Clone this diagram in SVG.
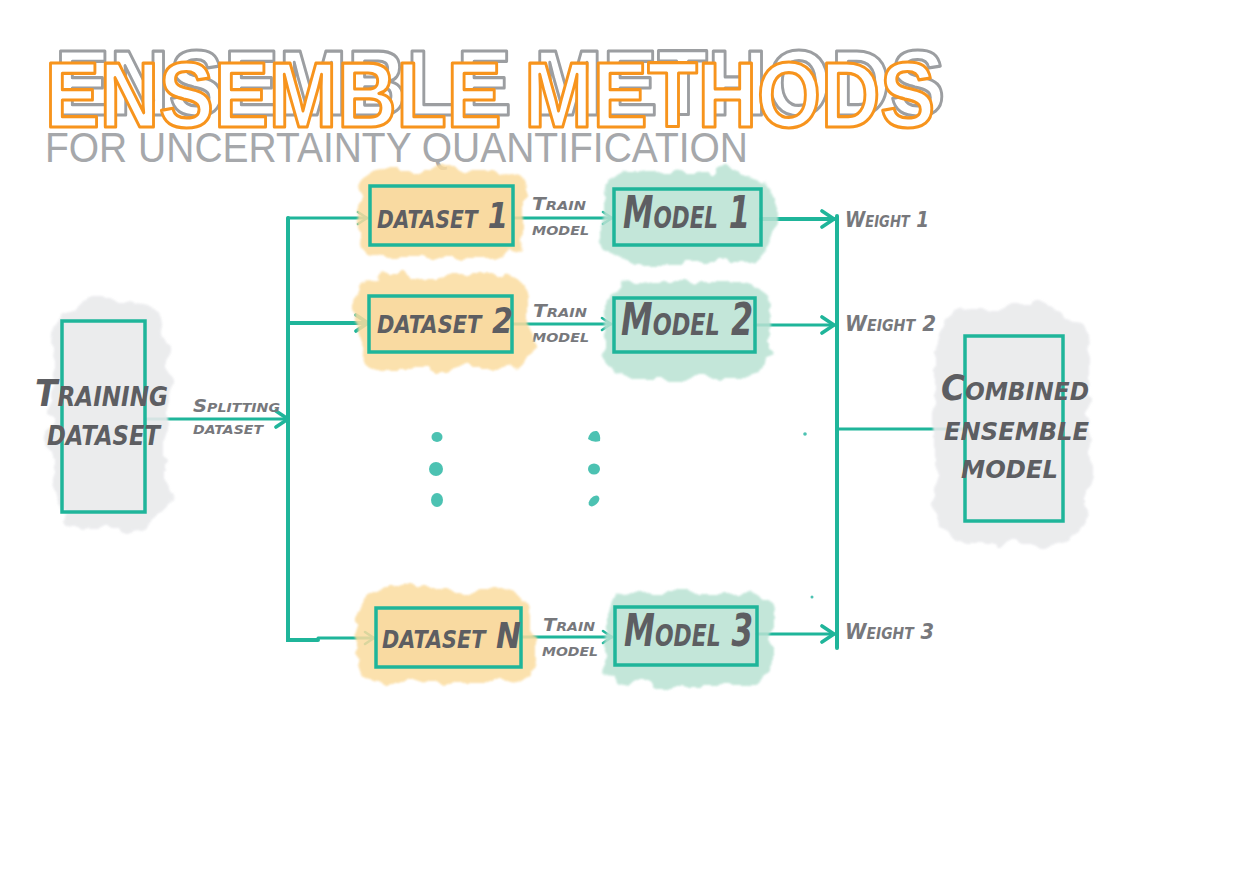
<svg xmlns="http://www.w3.org/2000/svg" width="1257" height="878" viewBox="0 0 1257 878">
<defs>
<filter id="blob" x="-20%" y="-20%" width="140%" height="140%">
<feTurbulence type="fractalNoise" baseFrequency="0.035" numOctaves="3" seed="4" result="n"/>
<feDisplacementMap in="SourceGraphic" in2="n" scale="22" xChannelSelector="R" yChannelSelector="G" result="d"/>
<feGaussianBlur in="d" stdDeviation="1.2"/>
</filter>
<filter id="shadow" x="-3%" y="-40%" width="106%" height="180%" color-interpolation-filters="sRGB">
<feColorMatrix in="SourceGraphic" type="matrix" values="0 0 0.44 0 0.56  0 0 0.44 0 0.57  0 0 0.44 0 0.58  0 0 0 1 0" result="g"/>
<feOffset in="g" dx="10" dy="-12" result="o"/>
<feMerge><feMergeNode in="o"/><feMergeNode in="SourceGraphic"/></feMerge>
</filter>
<marker id="arr" markerUnits="userSpaceOnUse" markerWidth="14" markerHeight="16" refX="11" refY="8" orient="auto">
<path d="M2,2 L11,8 L2,14" fill="none" stroke="#1fb59a" stroke-width="2.6" stroke-linecap="round" stroke-linejoin="round"/>
</marker>
<marker id="arrB" markerUnits="userSpaceOnUse" markerWidth="18" markerHeight="20" refX="14" refY="10" orient="auto">
<path d="M2,2 L14,10 L2,18" fill="none" stroke="#1fb59a" stroke-width="3.6" stroke-linecap="round" stroke-linejoin="round"/>
</marker>
</defs>
<style>
.box{fill:none;stroke:#1fb59a;stroke-width:3.5;}
.ln{fill:none;stroke:#1fb59a;stroke-width:3;stroke-linecap:round;}
.lnT{fill:none;stroke:#1fb59a;stroke-width:4;stroke-linecap:round;}
.yb{fill:#fbdc9f;opacity:0.85;}
.gb{fill:#b9e2d3;opacity:0.85;}
.wb{fill:#e9eaec;opacity:0.9;}
.hand{font-family:"DejaVu Sans",sans-serif;font-weight:bold;font-style:italic;font-variant:small-caps;fill:#5d5e62;}
.lbl{font-family:"DejaVu Sans",sans-serif;font-weight:bold;font-style:italic;font-variant:small-caps;fill:#77787c;}
.dot{fill:#4cc2b2;}
</style>
<rect width="1257" height="878" fill="#ffffff"/>

<g id="title">
<text x="45" y="127" filter="url(#shadow)" font-family="'Liberation Sans',Arial,sans-serif" font-weight="bold" font-size="92" textLength="890" lengthAdjust="spacingAndGlyphs" fill="#ffffff" stroke="#f7941d" stroke-width="3.2" stroke-linejoin="round">ENSEMBLE METHODS</text>
<text x="45" y="162" font-family="'Liberation Sans',Arial,sans-serif" font-size="42" textLength="703" lengthAdjust="spacingAndGlyphs" fill="#a6a8ab">FOR UNCERTAINTY QUANTIFICATION</text>
</g>

<g id="connectors">
<path class="ln" d="M145,419 L288,419" marker-end="url(#arrB)"/>
<path class="lnT" d="M288,218 L288,640 L318,640"/>
<path class="ln" d="M288,218 L367,218" marker-end="url(#arr)"/>
<path class="lnT" d="M288,323 L368,323" marker-end="url(#arrB)"/>
<path class="ln" d="M318,638 L374,638" marker-end="url(#arr)"/>
<path class="ln" d="M513,218 L612,218" marker-end="url(#arr)"/>
<path class="ln" d="M512,324 L611,324" marker-end="url(#arr)"/>
<path class="ln" d="M521,637 L612,637" marker-end="url(#arr)"/>
<path class="lnT" d="M761,219 L834,219" marker-end="url(#arrB)"/>
<path class="ln" d="M755,325 L834,325" marker-end="url(#arrB)"/>
<path class="ln" d="M757,634 L834,634" marker-end="url(#arrB)"/>
<path class="lnT" d="M837,216 L837,648"/>
<path class="ln" d="M837,429 L966,429"/>
<text class="lbl" x="193" y="412" font-size="18" textLength="87" lengthAdjust="spacingAndGlyphs">Splitting</text>
<text class="lbl" x="193" y="434" font-size="18" textLength="70" lengthAdjust="spacingAndGlyphs">dataset</text>
<text class="lbl" x="532" y="210" font-size="18" textLength="54" lengthAdjust="spacingAndGlyphs">Train</text>
<text class="lbl" x="532" y="235" font-size="18" textLength="57" lengthAdjust="spacingAndGlyphs">model</text>
<text class="lbl" x="533" y="317" font-size="18" textLength="54" lengthAdjust="spacingAndGlyphs">Train</text>
<text class="lbl" x="532" y="342" font-size="18" textLength="57" lengthAdjust="spacingAndGlyphs">model</text>
<text class="lbl" x="543" y="631" font-size="18" textLength="52" lengthAdjust="spacingAndGlyphs">Train</text>
<text class="lbl" x="542" y="656" font-size="18" textLength="56" lengthAdjust="spacingAndGlyphs">model</text>
</g>

<g id="training-dataset">
<rect class="wb" x="52" y="300" width="116" height="228" rx="40" filter="url(#blob)"/>
<rect class="box" x="62" y="321" width="83" height="191"/>
<text class="hand" x="35" y="406" font-size="37" textLength="133" lengthAdjust="spacingAndGlyphs">Training</text>
<text class="hand" x="47" y="445" font-size="37" textLength="113" lengthAdjust="spacingAndGlyphs">dataset</text>
</g>

<g id="dataset-1">
<rect class="yb" x="358" y="170" width="165" height="88" rx="25" filter="url(#blob)"/>
<rect x="370" y="186" width="143" height="59" fill="#f8d699" opacity="0.6"/>
<rect class="box" x="370" y="186" width="143" height="59"/>
<text class="hand" x="377" y="228" font-size="36" textLength="131" lengthAdjust="spacingAndGlyphs">dataset 1</text>
</g>

<g id="dataset-2">
<rect class="yb" x="357" y="277" width="175" height="92" rx="25" filter="url(#blob)"/>
<rect x="369" y="296" width="143" height="56" fill="#f8d699" opacity="0.6"/>
<rect class="box" x="369" y="296" width="143" height="56"/>
<text class="hand" x="377" y="333" font-size="36" textLength="136" lengthAdjust="spacingAndGlyphs">dataset 2</text>
</g>

<g id="dataset-n">
<rect class="yb" x="357" y="590" width="176" height="92" rx="25" filter="url(#blob)"/>
<rect x="376" y="608" width="145" height="59" fill="#f8d699" opacity="0.6"/>
<rect class="box" x="376" y="608" width="145" height="59"/>
<text class="hand" x="382" y="648" font-size="36" textLength="139" lengthAdjust="spacingAndGlyphs">dataset N</text>
</g>

<g id="model-1">
<rect class="gb" x="602" y="172" width="172" height="90" rx="25" filter="url(#blob)"/>
<rect class="box" x="614" y="189" width="147" height="56"/>
<text class="hand" x="623" y="228" font-size="44" textLength="127" lengthAdjust="spacingAndGlyphs">Model 1</text>
</g>

<g id="model-2">
<rect class="gb" x="606" y="282" width="164" height="96" rx="25" filter="url(#blob)"/>
<rect class="box" x="614" y="298" width="141" height="54"/>
<text class="hand" x="621" y="335" font-size="44" textLength="132" lengthAdjust="spacingAndGlyphs">Model 2</text>
</g>

<g id="model-3">
<rect class="gb" x="606" y="592" width="168" height="94" rx="25" filter="url(#blob)"/>
<rect class="box" x="615" y="607" width="142" height="58"/>
<text class="hand" x="624" y="646" font-size="44" textLength="129" lengthAdjust="spacingAndGlyphs">Model 3</text>
</g>

<g id="weight-1"><text class="lbl" x="845" y="227" font-size="21" textLength="84" lengthAdjust="spacingAndGlyphs">Weight 1</text></g>
<g id="weight-2"><text class="lbl" x="845" y="331" font-size="21" textLength="91" lengthAdjust="spacingAndGlyphs">Weight 2</text></g>
<g id="weight-3"><text class="lbl" x="845" y="639" font-size="21" textLength="89" lengthAdjust="spacingAndGlyphs">Weight 3</text></g>

<g id="combined-model">
<rect class="wb" x="934" y="308" width="156" height="236" rx="40" filter="url(#blob)"/>
<rect class="box" x="965" y="336" width="98" height="185"/>
<text class="hand" x="941" y="400" font-size="35" textLength="148" lengthAdjust="spacingAndGlyphs">Combined</text>
<text class="hand" x="944" y="440" font-size="36" textLength="145" lengthAdjust="spacingAndGlyphs">ensemble</text>
<text class="hand" x="961" y="478" font-size="36" textLength="97" lengthAdjust="spacingAndGlyphs">model</text>
</g>

<g id="ellipsis">
<ellipse class="dot" cx="437" cy="437" rx="5.5" ry="5"/>
<circle class="dot" cx="436" cy="469" r="7"/>
<ellipse class="dot" cx="437" cy="500" rx="6" ry="7"/>
<path class="dot" d="M588,439 Q590,430 597,431 Q601,434 600,441 Q593,443 588,439 Z"/>
<ellipse class="dot" cx="594" cy="469" rx="6" ry="5.5"/>
<ellipse class="dot" cx="594" cy="501" rx="4" ry="6.5" transform="rotate(45 594 501)"/>
<circle class="dot" cx="805" cy="434" r="1.8"/>
<circle class="dot" cx="812" cy="597" r="1.5"/>
</g>
</svg>
